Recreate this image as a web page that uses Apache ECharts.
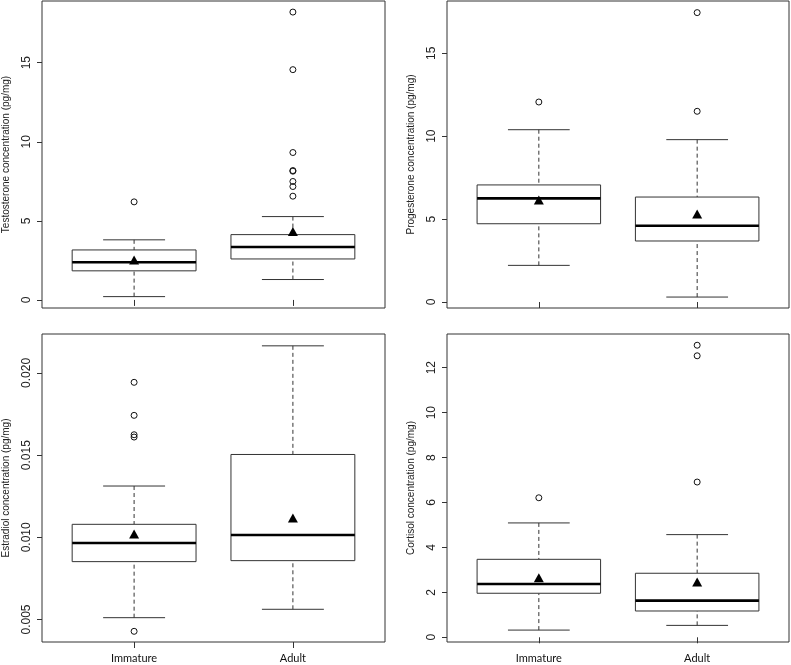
<!DOCTYPE html>
<html>
<head>
<meta charset="utf-8">
<script src="https://cdn.jsdelivr.net/npm/echarts@6/dist/echarts.min.js"></script>
<style>
html,body{margin:0;padding:0;background:#fff;}
#chart{width:791px;height:665px;}
</style>
</head>
<body>
<div id="chart"></div>
<script>
// ---- data ----
const categories = ['Immature', 'Adult'];
// box rows: [lower whisker, Q1, median, Q3, upper whisker]
const testoBox = [[0.21, 1.84, 2.38, 3.16, 3.80], [1.29, 2.59, 3.35, 4.13, 5.27]];
const testoMean = [2.53, 4.32];
const testoOutImm = [6.2];
const testoOutAdult = [18.2, 14.56, 9.32, 8.18, 8.14, 7.49, 7.17, 6.56];

const progBox = [[2.21, 4.72, 6.25, 7.06, 10.39], [0.30, 3.68, 4.60, 6.33, 9.79]];
const progMean = [6.15, 5.31];
const progOutImm = [12.06];
const progOutAdult = [17.45, 11.50];

const estrBox = [[0.00511, 0.00852, 0.00965, 0.01079, 0.01312], [0.00562, 0.00858, 0.01014, 0.01504, 0.02165]];
const estrMean = [0.0102, 0.01117];
const estrOutImm = [0.01943, 0.01742, 0.01624, 0.0161, 0.00428];
const estrOutAdult = [];

const cortBox = [[0.32, 1.96, 2.37, 3.47, 5.09], [0.53, 1.17, 1.63, 2.85, 4.57]];
const cortMean = [2.65, 2.46];
const cortOutImm = [6.21];
const cortOutAdult = [13.0, 12.53, 6.91];

const testoTicks = [0, 5, 10, 15];
const progTicks = [0, 5, 10, 15];
const estrTicks = [0.005, 0.010, 0.015, 0.020];
const cortTicks = [0, 2, 4, 6, 8, 10, 12];

const titles = [
  'Testosterone concentration (pg/mg)',
  'Progesterone concentration (pg/mg)',
  'Estradiol concentration (pg/mg)',
  'Cortisol concentration (pg/mg)'
];

// ---- build ----
const panels = [
  {box: testoBox, mean: testoMean, outs: [testoOutImm, testoOutAdult], ticks: testoTicks, min: -0.51, max: 18.9, fmt: v => String(v), xlab: false},
  {box: progBox, mean: progMean, outs: [progOutImm, progOutAdult], ticks: progTicks, min: -0.36, max: 18.15, fmt: v => String(v), xlab: false},
  {box: estrBox, mean: estrMean, outs: [estrOutImm, estrOutAdult], ticks: estrTicks, min: 0.00363, max: 0.02237, fmt: v => v.toFixed(3), xlab: true},
  {box: cortBox, mean: cortMean, outs: [cortOutImm, cortOutAdult], ticks: cortTicks, min: -0.21, max: 13.5, fmt: v => String(v), xlab: true}
];
const grids = [
  {left: 41, top: 1, width: 344, height: 307},
  {left: 447, top: 1, width: 342, height: 307},
  {left: 41, top: 334, width: 344, height: 308},
  {left: 447, top: 334, width: 342, height: 308}
];

const HW = 0.39, CW = 0.195;
const lineCol = '#333';

function renderBox(params, api) {
  const x = api.value(0);
  const lw = api.value(1), q1 = api.value(2), md = api.value(3), q3 = api.value(4), uw = api.value(5);
  const pL = api.coord([x - HW, q3]);
  const pR = api.coord([x + HW, q1]);
  const mL = api.coord([x - HW, md]);
  const mR = api.coord([x + HW, md]);
  const pq3 = api.coord([x, q3]), pq1 = api.coord([x, q1]);
  const puw = api.coord([x, uw]), plw = api.coord([x, lw]);
  const cuL = api.coord([x - CW, uw]), cuR = api.coord([x + CW, uw]);
  const clL = api.coord([x - CW, lw]), clR = api.coord([x + CW, lw]);
  const dash = {stroke: lineCol, lineWidth: 1, lineDash: [4, 3]};
  const solid = {stroke: lineCol, lineWidth: 1};
  return {
    type: 'group',
    children: [
      {type: 'line', shape: {x1: puw[0], y1: puw[1], x2: pq3[0], y2: pq3[1]}, style: dash},
      {type: 'line', shape: {x1: plw[0], y1: plw[1], x2: pq1[0], y2: pq1[1]}, style: dash},
      {type: 'line', shape: {x1: cuL[0], y1: cuL[1], x2: cuR[0], y2: cuR[1]}, style: solid},
      {type: 'line', shape: {x1: clL[0], y1: clL[1], x2: clR[0], y2: clR[1]}, style: solid},
      {type: 'rect', shape: {x: pL[0], y: pL[1], width: pR[0] - pL[0], height: pR[1] - pL[1]}, style: {fill: '#fff', stroke: lineCol, lineWidth: 1}},
      {type: 'line', shape: {x1: mL[0], y1: mL[1], x2: mR[0], y2: mR[1]}, style: {stroke: '#000', lineWidth: 2.6}}
    ]
  };
}

const option = {
  animation: false,
  backgroundColor: '#fff',
  grid: grids.map(g => Object.assign({show: true, borderColor: '#333', borderWidth: 1, backgroundColor: 'transparent'}, g)),
  xAxis: [],
  yAxis: [],
  series: []
};

panels.forEach((p, i) => {
  option.xAxis.push({
    type: 'value', gridIndex: i, min: 0.42, max: 2.58,
    axisLine: {show: false},
    splitLine: {show: false},
    axisTick: {show: true, length: 6, lineStyle: {color: '#333'}, customValues: [1, 2]},
    axisLabel: {
      show: p.xlab, customValues: [1, 2], margin: 11,
      formatter: v => categories[Math.round(v) - 1] || '',
      fontFamily: 'Lato', fontSize: 11, color: '#111'
    }
  });
  option.yAxis.push({
    type: 'value', gridIndex: i, min: p.min, max: p.max,
    name: titles[i], nameLocation: 'middle', nameGap: 31,
    nameTextStyle: {fontFamily: 'Liberation Sans', fontSize: 10, color: '#222'},
    axisLine: {show: false},
    splitLine: {show: false},
    axisTick: {show: true, length: 5, lineStyle: {color: '#333'}, customValues: p.ticks},
    axisLabel: {
      show: true, customValues: p.ticks, rotate: 90, margin: 9,
      formatter: v => p.fmt(v),
      fontFamily: 'Liberation Sans', fontSize: 12, color: '#222'
    }
  });
  const boxData = p.box.map((b, k) => [k + 1, b[0], b[1], b[2], b[3], b[4]]);
  option.series.push({
    type: 'custom', xAxisIndex: i, yAxisIndex: i,
    renderItem: renderBox,
    encode: {x: 0, y: [1, 2, 3, 4, 5]},
    data: boxData, z: 2
  });
  const outData = [];
  p.outs.forEach((arr, k) => arr.forEach(v => outData.push([k + 1, v])));
  option.series.push({
    type: 'scatter', xAxisIndex: i, yAxisIndex: i,
    symbol: 'circle', symbolSize: 6,
    itemStyle: {color: 'transparent', borderColor: '#111', borderWidth: 1, opacity: 1},
    data: outData, z: 3
  });
  option.series.push({
    type: 'scatter', xAxisIndex: i, yAxisIndex: i,
    symbol: 'triangle', symbolSize: [10, 9],
    itemStyle: {color: '#000', opacity: 1},
    data: p.mean.map((m, k) => [k + 1, m]), z: 4
  });
});

const chart = echarts.init(document.getElementById('chart'), null, {renderer: 'canvas'});
chart.setOption(option);
</script>
</body>
</html>
